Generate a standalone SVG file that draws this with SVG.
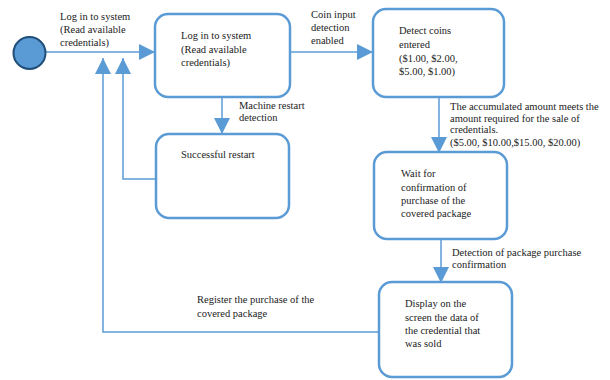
<svg xmlns="http://www.w3.org/2000/svg" width="610" height="380" viewBox="0 0 610 380">
<style>
.box{fill:#fff;stroke:#5b9bd5;stroke-width:2.5}
.c{fill:none;stroke:#5b9bd5;stroke-width:1.5}
text{font-family:"Liberation Serif","Times New Roman",serif;font-size:10.5px;fill:#222}
</style>
<defs>
<marker id="ah" markerUnits="userSpaceOnUse" markerWidth="16" markerHeight="16" refX="15" refY="7.5" orient="auto" viewBox="0 0 15 15">
<path d="M0,0 L15,7.5 L0,15 z" fill="#5b9bd5"/>
</marker>
</defs>
<rect width="610" height="380" fill="#fff"/>
<g id="connectors">
<line class="c" x1="46" y1="52" x2="155" y2="52" marker-end="url(#ah)"/>
<polyline class="c" points="379,332 103,332 103,58" marker-end="url(#ah)"/>
<polyline class="c" points="156,179 123,179 123,58" marker-end="url(#ah)"/>
<line class="c" x1="222" y1="97" x2="222" y2="134" marker-end="url(#ah)"/>
<line class="c" x1="290" y1="52" x2="373" y2="52" marker-end="url(#ah)"/>
<line class="c" x1="439" y1="97" x2="439" y2="153" marker-end="url(#ah)"/>
<line class="c" x1="441" y1="239" x2="441" y2="283" marker-end="url(#ah)"/>
<text x="60" y="20">Log in to system</text>
<text x="60" y="33">(Read available</text>
<text x="60" y="46">credentials)</text>
<text x="311" y="18">Coin input</text>
<text x="311" y="31">detection</text>
<text x="311" y="44">enabled</text>
<text x="239" y="109">Machine restart</text>
<text x="239" y="121">detection</text>
<text x="450" y="110">The accumulated amount meets the</text>
<text x="450" y="122">amount required for the sale of</text>
<text x="450" y="133">credentials.</text>
<text x="450" y="146">($5.00, $10.00,$15.00, $20.00)</text>
<text x="452" y="256">Detection of package purchase</text>
<text x="452" y="268">confirmation</text>
<text x="197" y="303">Register the purchase of the</text>
<text x="197" y="317">covered package</text>
</g>
<g id="start">
<circle cx="29.5" cy="53" r="16" fill="#5b9bd5" stroke="#1f4e79" stroke-width="2"/>
</g>
<g id="login">
<rect class="box" x="155" y="14" width="135" height="83" rx="13"/>
<text x="181" y="39">Log in to system</text>
<text x="181" y="53">(Read available</text>
<text x="181" y="66">credentials)</text>
</g>
<g id="restart">
<rect class="box" x="156" y="134" width="133" height="84" rx="13"/>
<text x="181" y="158">Successful restart</text>
</g>
<g id="detect">
<rect class="box" x="373" y="9" width="131" height="88" rx="13"/>
<text x="399" y="34">Detect coins</text>
<text x="399" y="48">entered</text>
<text x="399" y="62">($1.00, $2.00,</text>
<text x="399" y="75">$5.00, $1.00)</text>
</g>
<g id="wait">
<rect class="box" x="374" y="152" width="133" height="87" rx="13"/>
<text x="401" y="177">Wait for</text>
<text x="401" y="191">confirmation of</text>
<text x="401" y="204">purchase of the</text>
<text x="401" y="217">covered package</text>
</g>
<g id="display">
<rect class="box" x="379" y="282" width="133" height="95" rx="13"/>
<text x="405" y="307">Display on the</text>
<text x="405" y="321">screen the data of</text>
<text x="405" y="334">the credential that</text>
<text x="405" y="347">was sold</text>
</g>
</svg>
